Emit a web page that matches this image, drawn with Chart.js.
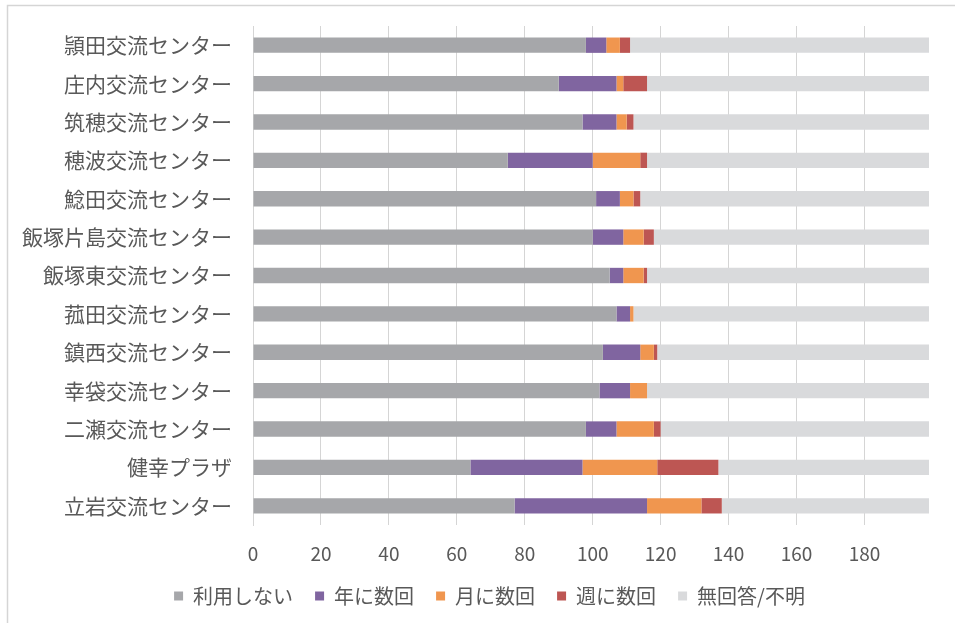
<!DOCTYPE html>
<html>
<head>
<meta charset="utf-8">
<script src="https://cdn.jsdelivr.net/npm/chart.js@4.4.0/dist/chart.umd.min.js"></script>
<style>
  body { margin: 0; background: #fff; }
  #wrap { width: 955px; height: 623px; }
</style>
</head>
<body>
<div id="wrap"><canvas id="myChart"></canvas></div>
<script>
// 施設ごとの利用頻度（回答数）
const centers = [
    '頴田交流センター', '庄内交流センター', '筑穂交流センター', '穂波交流センター',
    '鯰田交流センター', '飯塚片島交流センター', '飯塚東交流センター', '菰田交流センター',
    '鎮西交流センター', '幸袋交流センター', '二瀬交流センター', '健幸プラザ', '立岩交流センター'
];
const notUsed   = [98, 90, 97, 75, 101, 100, 105, 107, 103, 102, 98, 64, 77];
const yearly    = [6, 17, 10, 25, 7, 9, 4, 4, 11, 9, 9, 33, 39];
const monthly   = [4, 2, 3, 14, 4, 6, 6, 1, 4, 5, 11, 22, 16];
const weekly    = [3, 7, 2, 2, 2, 3, 1, 0, 1, 0, 2, 18, 6];
const noAnswer  = [88, 83, 87, 83, 85, 81, 83, 87, 80, 83, 79, 62, 61];
const xTicks    = [0, 20, 40, 60, 80, 100, 120, 140, 160, 180];

const textColor = '#595959';
const lineColor = '#D5D5D5';

Chart.defaults.font.family = '"Noto Sans CJK JP", "Noto Sans", sans-serif';
Chart.defaults.color = textColor;

// 外枠（上と左だけ見える）
const frame = {
    id: 'frame',
    beforeDraw(chart) {
        const ctx = chart.ctx;
        ctx.save();
        ctx.strokeStyle = lineColor;
        ctx.lineWidth = 1.5;
        ctx.beginPath();
        ctx.moveTo(7.5, chart.height);
        ctx.lineTo(7.5, 5.5);
        ctx.lineTo(chart.width, 5.5);
        ctx.stroke();
        ctx.restore();
    }
};

// 凡例を少し右へ寄せる
const legendShift = {
    id: 'legendShift',
    afterLayout(chart) {
        const lg = chart.legend;
        if (lg) {
            lg.left += 25;
            lg.right += 25;
        }
    }
};

function ds(label, values, color) {
    return {
        label: label,
        data: values,
        backgroundColor: color,
        borderWidth: 0,
        barPercentage: 0.4,
        categoryPercentage: 1
    };
}

new Chart(document.getElementById('myChart'), {
    type: 'bar',
    data: {
        labels: centers,
        datasets: [
            ds('利用しない', notUsed, '#A6A7AA'),
            ds('年に数回', yearly, '#8065A0'),
            ds('月に数回', monthly, '#F0964F'),
            ds('週に数回', weekly, '#BD5653'),
            ds('無回答/不明', noAnswer, '#D9DADC')
        ]
    },
    options: {
        indexAxis: 'y',
        responsive: true,
        maintainAspectRatio: false,
        animation: false,
        layout: { padding: { top: 26, right: 26, bottom: 7, left: 0 } },
        scales: {
            x: {
                type: 'linear',
                stacked: true,
                min: 0,
                max: 199,
                afterFit: (scale) => { scale.height = 39; },
                grid: {
                    drawTicks: false,
                    lineWidth: 1,
                    // 右端（199）には線を引かない
                    color: (c) => (c.tick && xTicks.includes(c.tick.value)) ? lineColor : 'rgba(0,0,0,0)'
                },
                border: { display: false },
                ticks: {
                    stepSize: 20,
                    padding: 17,
                    font: { size: 19 },
                    color: textColor,
                    callback: (v) => xTicks.includes(v) ? v : ''
                }
            },
            y: {
                stacked: true,
                afterFit: (scale) => { scale.width = 253; },
                grid: { display: false, drawTicks: true, tickLength: 21 },
                border: { display: true, color: lineColor, width: 1 },
                ticks: { padding: 0, font: { size: 21 }, color: textColor }
            }
        },
        plugins: {
            legend: {
                position: 'bottom',
                labels: {
                    boxWidth: 9,
                    boxHeight: 9,
                    padding: 22,
                    font: { size: 20 },
                    color: textColor
                }
            },
            tooltip: { enabled: false }
        }
    },
    plugins: [frame, legendShift]
});
</script>
</body>
</html>
